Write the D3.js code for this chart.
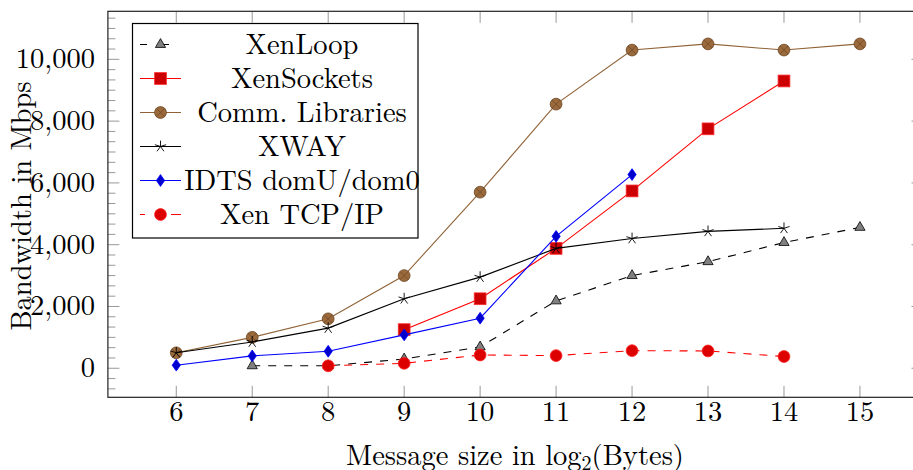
<html>
  <head>
    <style>
      body { margin: 0; background: #fff; }
      text { font-family: "Latin Modern Roman", "CMU Serif", "Liberation Serif", serif; fill: #000; }
    </style>
  </head>
  <body>
    <div id="chart"></div>
    <script src="https://d3js.org/d3.v7.js"></script>
    <script>
    // message sizes, log2(bytes)
    var sizes = [6, 7, 8, 9, 10, 11, 12, 13, 14, 15]
    // bandwidth in Mbps, null where the series has no point
    var xenLoop     = [null,   80,   80,  300,  690, 2180,  3000,  3450,  4070, 4560]
    var xenSockets  = [null, null, null, 1250, 2250, 3880,  5740,  7750,  9300, null]
    var commLibs    = [ 500, 1000, 1600, 3000, 5700, 8550, 10300, 10500, 10300, 10500]
    var xway        = [ 500,  850, 1300, 2250, 2950, 3880,  4200,  4430,  4530, null]
    var idts        = [ 100,  400,  550, 1080, 1620, 4270,  6270,  null,  null, null]
    var xenTcp      = [null, null,   80,  160,  430,  410,   570,   560,   380, null]
    var seriesNames = ["XenLoop", "XenSockets", "Comm. Libraries", "XWAY", "IDTS domU/dom0", "Xen TCP/IP"]
    var yTicks = [0, 2000, 4000, 6000, 8000, 10000]

    var width = 913, height = 470
    var fs = "28.5px"

    var svg = d3.select("#chart").append("svg")
      .attr("width", width).attr("height", height)

    var x = d3.scaleLinear().domain([5.1, 15.83]).range([107.9, 923])
    var y = d3.scaleLinear().domain([-940, 11555]).range([397.3, 11.3])
    var pLeft = x.range()[0], pRight = x.range()[1], pTop = y.range()[1], pBottom = y.range()[0]

    // styles per series
    var styles = [
      {line: "#000", dash: "8,8", legendDash: "7,16,6,40", mark: "triangle", fill: "#808080", stroke: "#000"},
      {line: "#ff0000", dash: null, mark: "square", fill: "#cc0000", stroke: "#ff3030"},
      {line: "#8f6236", dash: null, mark: "otimes", fill: "#9a6a3c", stroke: "#6b4522"},
      {line: "#000", dash: null, mark: "star", fill: "none", stroke: "#000"},
      {line: "#0000ff", dash: null, mark: "diamond", fill: "#0000cc", stroke: "#0000ff"},
      {line: "#ff0000", dash: "8,8", legendDash: "5,26,10", mark: "circle", fill: "#dd0000", stroke: "#ff2020"}
    ]
    var allData = [xenLoop, xenSockets, commLibs, xway, idts, xenTcp]

    function drawMark(g, type, cx, cy, st) {
      var s = 5.9
      if (type == "circle" || type == "otimes") {
        g.append("circle").attr("cx", cx).attr("cy", cy).attr("r", s)
          .attr("fill", st.fill).attr("stroke", st.stroke).attr("stroke-width", 0.8)
        if (type == "otimes") {
          var d = s * 0.7
          g.append("path")
            .attr("d", "M" + (cx - d) + "," + (cy - d) + "L" + (cx + d) + "," + (cy + d) +
                       "M" + (cx - d) + "," + (cy + d) + "L" + (cx + d) + "," + (cy - d))
            .attr("stroke", st.stroke).attr("stroke-width", 0.7)
        }
      } else if (type == "square") {
        g.append("rect").attr("x", cx - s).attr("y", cy - s).attr("width", 2 * s).attr("height", 2 * s)
          .attr("fill", st.fill).attr("stroke", st.stroke).attr("stroke-width", 0.8)
      } else if (type == "triangle") {
        var p = [[cx, cy - s], [cx - s * 0.866, cy + s * 0.5], [cx + s * 0.866, cy + s * 0.5]]
        g.append("path").attr("d", "M" + p.join("L") + "Z")
          .attr("fill", st.fill).attr("stroke", st.stroke).attr("stroke-width", 0.8)
      } else if (type == "diamond") {
        var w = s * 0.7
        g.append("path")
          .attr("d", "M" + cx + "," + (cy - s) + "L" + (cx + w) + "," + cy + "L" + cx + "," + (cy + s) + "L" + (cx - w) + "," + cy + "Z")
          .attr("fill", st.fill).attr("stroke", st.stroke).attr("stroke-width", 0.8)
      } else if (type == "star") {
        var path = ""
        for (var k = 0; k < 5; k++) {
          var a = -Math.PI / 2 + k * 2 * Math.PI / 5
          path += "M" + cx + "," + cy + "L" + (cx + s * Math.cos(a)) + "," + (cy + s * Math.sin(a))
        }
        g.append("path").attr("d", path).attr("stroke", st.stroke).attr("stroke-width", 0.9).attr("fill", "none")
      }
    }

    // ticks
    var ticks = svg.append("g").attr("stroke", "#999").attr("stroke-width", 1)
    var minor = d3.range(-2000 / 3, 11555, 2000 / 6)
    minor.forEach(function(v) {
      var isMajor = Math.abs(v / 2000 - Math.round(v / 2000)) < 1e-6
      var len = isMajor ? 11.5 : 7.5
      ticks.append("line").attr("x1", pLeft).attr("x2", pLeft + len).attr("y1", y(v)).attr("y2", y(v))
      ticks.append("line").attr("x1", pRight).attr("x2", pRight - len).attr("y1", y(v)).attr("y2", y(v))
    })
    sizes.forEach(function(v) {
      ticks.append("line").attr("x1", x(v)).attr("x2", x(v)).attr("y1", pBottom).attr("y2", pBottom - 11.5)
      ticks.append("line").attr("x1", x(v)).attr("x2", x(v)).attr("y1", pTop).attr("y2", pTop + 11.5)
    })

    // series
    allData.forEach(function(vals, i) {
      var st = styles[i]
      var pts = sizes.map(function(s, j) { return [s, vals[j]] }).filter(function(d) { return d[1] != null })
      var g = svg.append("g")
      g.append("path")
        .attr("d", d3.line().x(function(d) { return x(d[0]) }).y(function(d) { return y(d[1]) })(pts))
        .attr("fill", "none").attr("stroke", st.line).attr("stroke-width", 1.1)
        .attr("stroke-dasharray", st.dash)
      pts.forEach(function(d) { drawMark(g, st.mark, x(d[0]), y(d[1]), st) })
    })

    // frame
    svg.append("rect").attr("x", pLeft).attr("y", pTop).attr("width", pRight - pLeft).attr("height", pBottom - pTop)
      .attr("fill", "none").attr("stroke", "#222").attr("stroke-width", 1.2)

    // tick labels
    var fmt = d3.format(",")
    yTicks.forEach(function(v) {
      svg.append("text").attr("x", 95).attr("y", y(v) + 9).attr("text-anchor", "end")
        .style("font-size", fs).text(fmt(v))
    })
    sizes.forEach(function(v) {
      svg.append("text").attr("x", x(v)).attr("y", 421).attr("text-anchor", "middle")
        .style("font-size", fs).text(v)
    })

    // axis titles
    var xt = svg.append("text").attr("x", 515).attr("y", 465).attr("text-anchor", "middle")
      .style("font-size", fs)
    xt.append("tspan").text("Message size in log")
    xt.append("tspan").attr("dy", 5).style("font-size", "20px").text("2")
    xt.append("tspan").attr("dy", -5).text("(Bytes)")

    svg.append("text").attr("transform", "translate(31,206) rotate(-90)").attr("text-anchor", "middle")
      .style("font-size", fs).text("Bandwidth in Mbps")

    // legend
    var lg = svg.append("g")
    lg.append("rect").attr("x", 132.5).attr("y", 23.5).attr("width", 285.5).attr("height", 214.5)
      .attr("fill", "#fff").attr("stroke", "#000").attr("stroke-width", 1.2)
    seriesNames.forEach(function(name, i) {
      var cy = 44.5 + i * 34, st = styles[i]
      lg.append("line").attr("x1", 140).attr("x2", 181).attr("y1", cy).attr("y2", cy)
        .attr("stroke", st.line).attr("stroke-width", 1.1).attr("stroke-dasharray", st.legendDash || null)
      drawMark(lg, st.mark, 160.5, cy, st)
      lg.append("text").attr("x", 302).attr("y", cy + 9).attr("text-anchor", "middle")
        .style("font-size", fs).text(name)
    })
    </script>
  </body>
</html>
